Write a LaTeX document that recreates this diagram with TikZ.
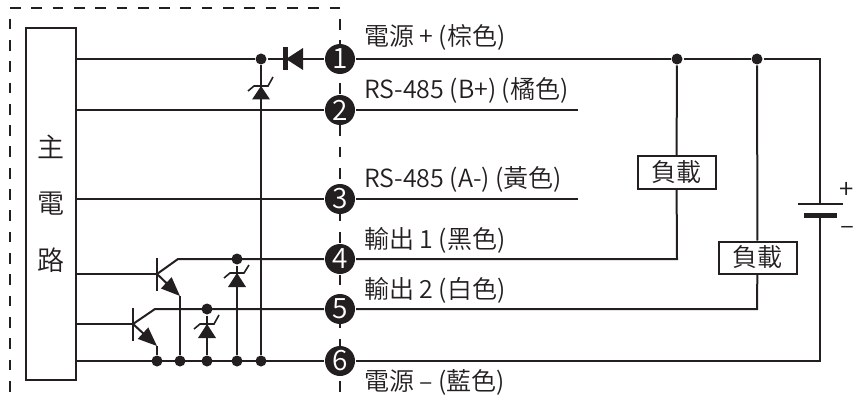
\documentclass[tikz,border=0pt]{standalone}
\usepackage{fontspec}
\setmainfont{Noto Sans CJK TC DemiLight}
\usetikzlibrary{arrows.meta}
\definecolor{ink}{HTML}{231F20}

\begin{document}
\begin{tikzpicture}[x=1pt, y=-1pt, ink, line width=2pt, every node/.style={ink},
  wire/.style={draw=ink, line width=2pt},
  border/.style={draw=ink, line width=2pt, dash pattern=on 10.7pt off 10.6pt},
  dot/.style={circle, fill=ink, inner sep=0pt, minimum size=11pt},
  pin/.style={circle, fill=ink, text=white, inner sep=0pt, minimum size=30pt, font=\fontsize{28}{28}\selectfont},
  load/.style={draw=ink, fill=white, line width=2pt, minimum width=78pt, minimum height=32pt, inner sep=0pt, font=\fontsize{25}{25}\selectfont},
  caption/.style={anchor=west, inner sep=0pt, font=\fontsize{25}{25}\selectfont},
  chip/.style={inner sep=0pt, font=\fontsize{27}{27}\selectfont},
  sign/.style={inner sep=0pt, font=\fontsize{26}{26}\selectfont}]
\useasboundingbox (0, 0) rectangle (854, 401);

% dashed border
\coordinate (bl) at (10, 401);
\coordinate (bt) at (10, 18.7);
\coordinate (tl) at (10, 8);
\coordinate (tr) at (340, 8);
\coordinate (rt) at (340, 19);
\coordinate (rb) at (340, 401);
\draw[border] (bt) -- (bl);
\draw[border] (tl) -- (tr);
\draw[border] (rt) -- (rb);

% main block
\node[draw=ink, line width=2pt, minimum width=50pt, minimum height=352pt, inner sep=0pt] (main) at (51, 204) {};
\node[chip] (zhu) at (51, 147) {主};
\node[chip] (dian) at (51, 204) {電};
\node[chip] (lu) at (51, 260) {路};

% pins
\node[pin] (p1) at (340, 59) {1};
\node[pin] (p2) at (340, 110) {2};
\node[pin] (p3) at (340, 199) {3};
\node[pin] (p4) at (340, 259) {4};
\node[pin] (p5) at (340, 309) {5};
\node[pin] (p6) at (340, 361) {6};

% junctions
\node[dot] (j1) at (261, 59) {};
\node[dot] (j4) at (237, 259) {};
\node[dot] (j5) at (207, 309) {};
\node[dot] (k1) at (157, 361) {};
\node[dot] (k2) at (180, 361) {};
\node[dot] (k3) at (207, 361) {};
\node[dot] (k4) at (237, 361) {};
\node[dot] (k5) at (261, 361) {};
\node[dot] (r1) at (677, 59) {};
\node[dot] (r2) at (757, 59) {};

% far ends
\coordinate (m1) at (76, 59);
\coordinate (m2) at (76, 110);
\coordinate (m3) at (76, 199);
\coordinate (m6) at (76, 361);
\coordinate (e2) at (578, 110);
\coordinate (e3) at (578, 199);
\coordinate (c1) at (820, 59);
\coordinate (c4) at (677, 259);
\coordinate (c5) at (757, 309);
\coordinate (c6) at (820, 361);

% loads and battery
\node[load] (load1) at (676.5, 172.5) {負載};
\node[load] (load2) at (757.5, 257.5) {負載};
\coordinate (bp) at (820, 204);
\coordinate (bn) at (820, 215);
\draw[wire, line width=1.5pt] (798, 204) -- (843, 204);
\draw[wire, line width=5pt] (804, 215) -- (837, 215);
\node[sign] (plus) at (847, 190) {+};
\node[sign] (minus) at (847, 230) {–};

% transistors
\coordinate (b1) at (157, 274);
\coordinate (b2) at (133, 324);
\coordinate (g1) at (76, 274);
\coordinate (g2) at (76, 324);
\coordinate (c1t) at (178, 259);
\coordinate (c2t) at (155, 309);
\coordinate (e1t) at (180, 296);
\coordinate (e2t) at (157, 346);
\draw[wire] (157, 258) -- (157, 291);
\draw[wire] (133, 308) -- (133, 341);
\draw[wire] (g1) -- (b1);
\draw[wire] (g2) -- (b2);
\draw[wire] (b1) -- (c1t) -- (p4);
\draw[wire] (b2) -- (c2t) -- (p5);
\draw[wire, -{Triangle[length=19pt, width=15pt]}] (b1) -- (e1t);
\draw[wire, -{Triangle[length=19pt, width=15pt]}] (b2) -- (e2t);
\draw[wire] (e1t) -- (k2);
\draw[wire] (e2t) -- (k1);

% wires
\draw[wire] (m1) -- (j1) -- (p1) -- (r1) -- (r2) -- (c1) -- (bp);
\draw[wire] (bn) -- (c6) -- (p6) -- (m6);
\draw[wire] (m2) -- (p2) -- (e2);
\draw[wire] (m3) -- (p3) -- (e3);
\draw[wire] (p4) -- (c4) -- (load1) -- (r1);
\draw[wire] (p5) -- (c5) -- (load2) -- (r2);
\draw[wire] (j1) -- (k5);
\draw[wire] (j4) -- (k4);
\draw[wire] (j5) -- (k3);

% diode
\fill[ink] (283, 47.5) rectangle (288, 70);
\fill[ink] (286, 59) -- (303, 48) -- (303, 70) -- cycle;

% zeners
\fill[ink] (261, 86) -- (270, 99.5) -- (252, 99.5) -- cycle;
\draw[line width=1.6pt] (248, 91) -- (254, 86) -- (268, 86) -- (273, 77);
\fill[ink] (237, 273) -- (246, 287) -- (228, 287) -- cycle;
\draw[line width=1.6pt] (224, 278) -- (230, 273) -- (244, 273) -- (249, 265);
\fill[ink] (207, 324) -- (216, 338) -- (198, 338) -- cycle;
\draw[line width=1.6pt] (194, 329) -- (200, 324) -- (214, 324) -- (219, 315);

% captions
\node[caption] (t1) at (363, 37) {電源 + (棕色)};
\node[caption] (t2) at (363, 90) {RS-485 (B+) (橘色)};
\node[caption] (t3) at (363, 179) {RS-485 (A-) (黃色)};
\node[caption] (t4) at (363, 240) {輸出 1 (黑色)};
\node[caption] (t5) at (363, 290) {輸出 2 (白色)};
\node[caption] (t6) at (363, 382) {電源 – (藍色)};
\end{tikzpicture}
\end{document}
